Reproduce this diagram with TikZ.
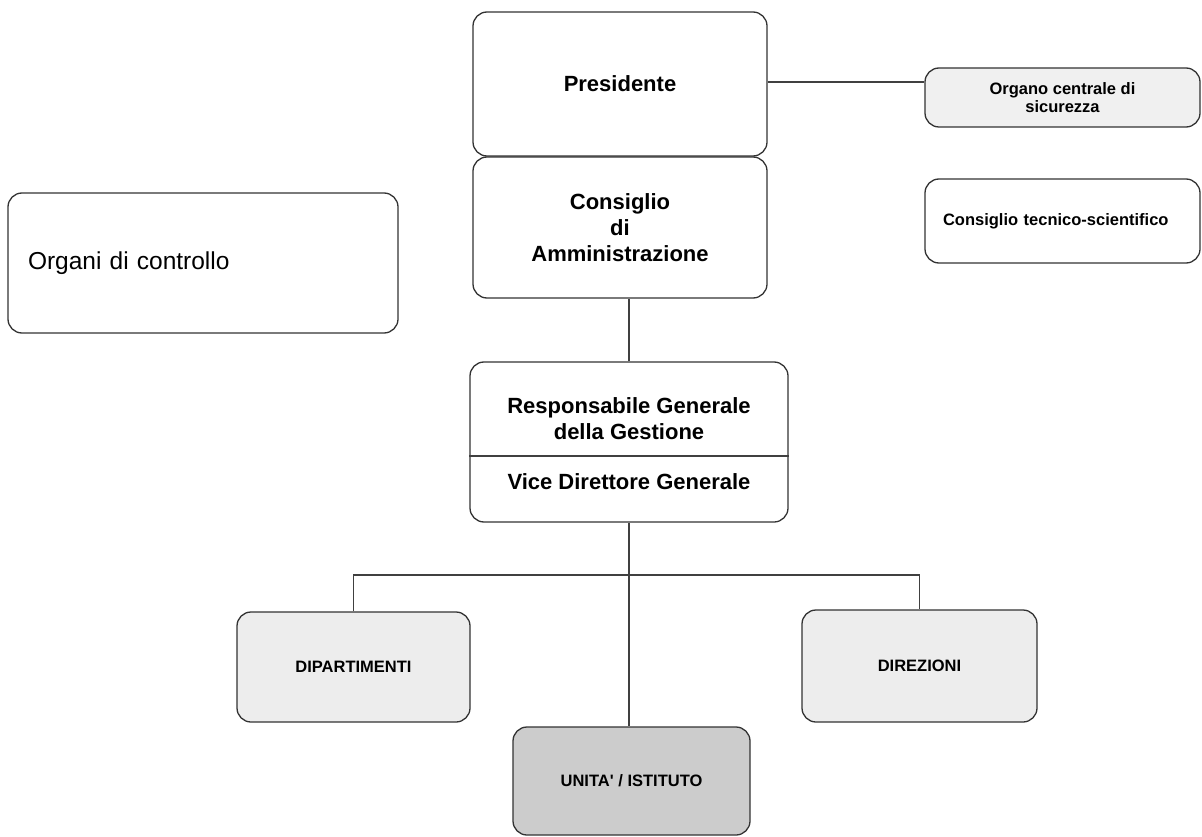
\documentclass[tikz,border=0pt]{standalone}
\usepackage{fontspec}
\setmainfont{Liberation Sans}
\usepackage{tikz}

\begin{document}
\begin{tikzpicture}[x=1pt, y=-1pt,
  box/.style = {draw=black!80, line width=1.3pt, rounded corners=14pt, align=center, inner sep=0pt},
  big/.style = {font=\fontsize{22}{26}\selectfont\bfseries},
  small/.style = {font=\fontsize{16.5}{18}\selectfont\bfseries},
  link/.style = {draw=black!75, line width=1.1pt}]

\useasboundingbox (0,0) rectangle (1202,837);

%% top boxes
\node[box, big, minimum width=294pt, minimum height=144pt] (pres) at (620, 84) {Presidente};
\node[box, big, minimum width=294pt, minimum height=141pt] (cda) at (620, 227.5) {Consiglio\\di\\Amministrazione};
\node[box, small, fill=black!6, minimum width=275pt, minimum height=59pt] (sicur) at (1062.5, 97.5) {Organo centrale di\\sicurezza};
\node[box, small, minimum width=275pt, minimum height=84pt, text width=239pt, align=left] (tecn) at (1062.5, 221) {Consiglio tecnico-scientifico};
\node[box, font=\fontsize{24.5}{28}\selectfont, minimum width=390pt, minimum height=140pt, text width=350pt, align=left] (contr) at (203, 263) {Organi di controllo};

%% responsabile / vice
\node[box, minimum width=318pt, minimum height=160pt] (resp) at (629, 442) {};
\node[big, align=center] (resptxt) at (629, 419) {Responsabile Generale\\della Gestione};
\node[big] (vice) at (629, 482) {Vice Direttore Generale};
\draw[link] (resp.west |- 0,456) -- (resp.east |- 0,456);

%% bottom boxes
\node[box, small, fill=black!7, minimum width=233pt, minimum height=110pt] (dip) at (353.5, 667) {DIPARTIMENTI};
\node[box, small, fill=black!7, minimum width=235pt, minimum height=112pt] (dir) at (919.5, 666) {DIREZIONI};
\node[box, small, fill=black!20, minimum width=237pt, minimum height=108pt] (unita) at (631.5, 781) {UNITA\textquotesingle{} / ISTITUTO};

\coordinate (fork) at (629, 575);

%%% edges
\draw[link] (pres.east |- 0,82) -- (sicur.west |- 0,82);
\draw[link] (resp.north) -- (resp.north |- cda.south);
\draw[link] (resp.south) -- (unita.north -| resp.south);
\draw[link] (dip.north) |- (fork) -| (dir.north);

\end{tikzpicture}
\end{document}
